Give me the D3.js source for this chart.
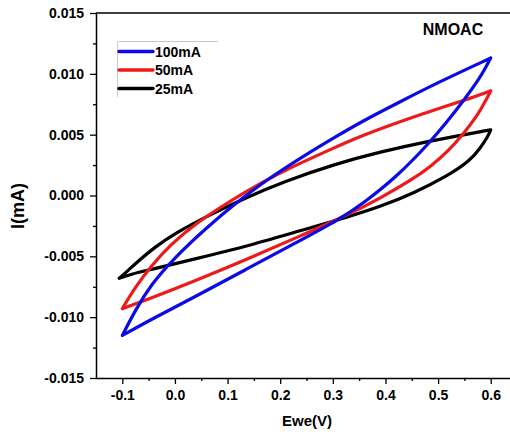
<!DOCTYPE html>
<html>
<head>
<meta charset="utf-8">
<script src="https://cdn.jsdelivr.net/npm/d3@7"></script>
<style>
  html, body { margin: 0; padding: 0; background: #fff; }
  svg { display: block; }
  text { font-family: Arial, "Liberation Sans", sans-serif; font-weight: bold; fill: #000; }
</style>
</head>
<body>
<svg id="chart" width="510" height="432"></svg>
<script>
// Cyclic voltammetry loops, potential (V) vs current (mA), at three rates.
const seriesNames = ["100mA", "50mA", "25mA"];
const seriesColors = ["#0a0ae6", "#ee1a1a", "#000000"];

// Anodic (upper) branches, from -0.1 V up to 0.6 V: [V, I]
const upper100 = [[-0.1, -0.0115], [-0.075, -0.0094], [-0.045, -0.0073], [-0.005, -0.0053], [0.058, -0.0027],
  [0.122, -0.0004], [0.172, 0.0012], [0.214, 0.0024], [0.258, 0.0036], [0.296, 0.0046], [0.36, 0.0062],
  [0.423, 0.0076], [0.505, 0.0094], [0.6, 0.0113]];
const upper50 = [[-0.1, -0.0093], [-0.075, -0.0075], [-0.045, -0.0058], [-0.010, -0.0041], [0.039, -0.0023],
  [0.103, -0.0005], [0.166, 0.0011], [0.220, 0.0023], [0.296, 0.0038], [0.36, 0.0050], [0.423, 0.0060],
  [0.490, 0.0070], [0.549, 0.0078], [0.6, 0.0086]];
const upper25 = [[-0.106, -0.0068], [-0.095, -0.0064], [-0.070, -0.0054], [-0.040, -0.0043], [0.0, -0.0031],
  [0.070, -0.0015], [0.134, -0.0002], [0.204, 0.0011], [0.305, 0.0026], [0.391, 0.0036], [0.486, 0.0045],
  [0.562, 0.0051], [0.6, 0.0054]];

// Cathodic (lower) branches, from 0.6 V back down to -0.1 V: [V, I]
const lower100 = [[0.6, 0.0113], [0.589, 0.0104], [0.578, 0.0096], [0.552, 0.0080], [0.518, 0.0061],
  [0.483, 0.0043], [0.423, 0.0016], [0.359, -0.0006], [0.315, -0.0019], [0.229, -0.0039], [0.134, -0.0061],
  [0.039, -0.0083], [-0.037, -0.0100], [-0.1, -0.0115]];
const lower50 = [[0.6, 0.0086], [0.588, 0.0076], [0.575, 0.0066], [0.549, 0.0051], [0.518, 0.0036],
  [0.486, 0.0024], [0.454, 0.0014], [0.391, -0.0002], [0.328, -0.0016], [0.229, -0.0035], [0.134, -0.0053],
  [0.039, -0.0070], [-0.049, -0.0085], [-0.1, -0.0093]];
const lower25 = [[0.6, 0.0054], [0.594, 0.0048], [0.580, 0.0039], [0.562, 0.0029], [0.518, 0.0016],
  [0.454, 0.0002], [0.391, -0.0009], [0.334, -0.0017], [0.229, -0.0030], [0.134, -0.0042], [0.039, -0.0052],
  [-0.037, -0.0060], [-0.087, -0.0065], [-0.106, -0.0068]];

const xTicks = [-0.1, 0.0, 0.1, 0.2, 0.3, 0.4, 0.5, 0.6];
const xMinorTicks = [-0.05, 0.05, 0.15, 0.25, 0.35, 0.45, 0.55, 0.65];
const yTicks = [-0.015, -0.010, -0.005, 0.000, 0.005, 0.010, 0.015];
const yMinorTicks = [-0.0125, -0.0075, -0.0025, 0.0025, 0.0075, 0.0125];

const chartTitle = "NMOAC";
const xTitle = "Ewe(V)";
const yTitle = "I(mA)";

const series = [
  { name: seriesNames[0], color: seriesColors[0], upper: upper100, lower: lower100 },
  { name: seriesNames[1], color: seriesColors[1], upper: upper50, lower: lower50 },
  { name: seriesNames[2], color: seriesColors[2], upper: upper25, lower: lower25 }
];

const svg = d3.select("#chart");
const plotLeft = 96, plotTop = 13, plotBottom = 378, plotRight = 510;

const x = d3.scaleLinear().domain([-0.15, 0.7]).range([plotLeft, plotLeft + 0.85 * 526.3]);
const y = d3.scaleLinear().domain([-0.015, 0.015]).range([plotBottom, plotTop]);

const fmt = d3.formatLocale({ decimal: ".", thousands: ",", grouping: [3], currency: ["", ""], minus: "-" });

// Curves: each loop is drawn as two smooth branches joined at the vertices
const line = d3.line().x(d => x(d[0])).y(d => y(d[1])).curve(d3.curveBasis);
const plot = svg.append("g");
series.slice().reverse().forEach(s => {
  plot.append("path")
    .attr("d", line(s.upper) + line(s.lower))
    .attr("fill", "none")
    .attr("stroke", s.color)
    .attr("stroke-width", 3.2)
    .attr("stroke-linejoin", "round")
    .attr("stroke-linecap", "round");
});

// Frame: top edge
svg.append("line").attr("x1", plotLeft).attr("x2", plotRight).attr("y1", plotTop).attr("y2", plotTop)
  .attr("stroke", "#000").attr("stroke-width", 1.4);

// X axis
const xAxis = svg.append("g").attr("transform", `translate(0,${plotBottom})`)
  .call(d3.axisBottom(x).tickValues(xTicks).tickFormat(fmt.format(".1f")).tickSize(6).tickSizeOuter(0).tickPadding(6));
svg.append("g").attr("transform", `translate(0,${plotBottom})`)
  .call(d3.axisBottom(x).tickValues(xMinorTicks).tickFormat("").tickSize(3).tickSizeOuter(0))
  .call(g => g.select(".domain").remove());
xAxis.select(".domain").attr("d", `M${plotLeft},0.5H${plotRight}`);

// Y axis
const yAxis = svg.append("g").attr("transform", `translate(${plotLeft},0)`)
  .call(d3.axisLeft(y).tickValues(yTicks).tickFormat(fmt.format(".3f")).tickSize(6).tickSizeOuter(0).tickPadding(6));
svg.append("g").attr("transform", `translate(${plotLeft},0)`)
  .call(d3.axisLeft(y).tickValues(yMinorTicks).tickFormat("").tickSize(3).tickSizeOuter(0))
  .call(g => g.select(".domain").remove());

svg.selectAll(".domain").attr("stroke-width", 1.5);
svg.selectAll(".tick line").attr("stroke-width", 1.3);
svg.selectAll(".tick text").attr("font-size", 14).attr("font-family", null).attr("fill", "#000");

// Axis titles
svg.append("text").attr("x", 307).attr("y", 426).attr("text-anchor", "middle")
  .attr("font-size", 15).text(xTitle);
svg.append("text").attr("transform", "translate(24,206) rotate(-90)").attr("text-anchor", "middle")
  .attr("font-size", 18).text(yTitle);

// Chart title
svg.append("text").attr("x", 453).attr("y", 35).attr("text-anchor", "middle")
  .attr("font-size", 16).text(chartTitle);

// Legend
const legend = svg.append("g");
legend.append("path").attr("d", "M117.5,97V41.5H218").attr("fill", "none")
  .attr("stroke", "#c8c8c8").attr("stroke-width", 1);
series.forEach((s, i) => {
  const ly = 51.5 + i * 18.5;
  legend.append("line").attr("x1", 119).attr("x2", 153).attr("y1", ly).attr("y2", ly)
    .attr("stroke", s.color).attr("stroke-width", 3.5).attr("stroke-linecap", "round");
  legend.append("text").attr("x", 155).attr("y", ly + 5).attr("font-size", 14).text(s.name);
});
</script>
</body>
</html>
